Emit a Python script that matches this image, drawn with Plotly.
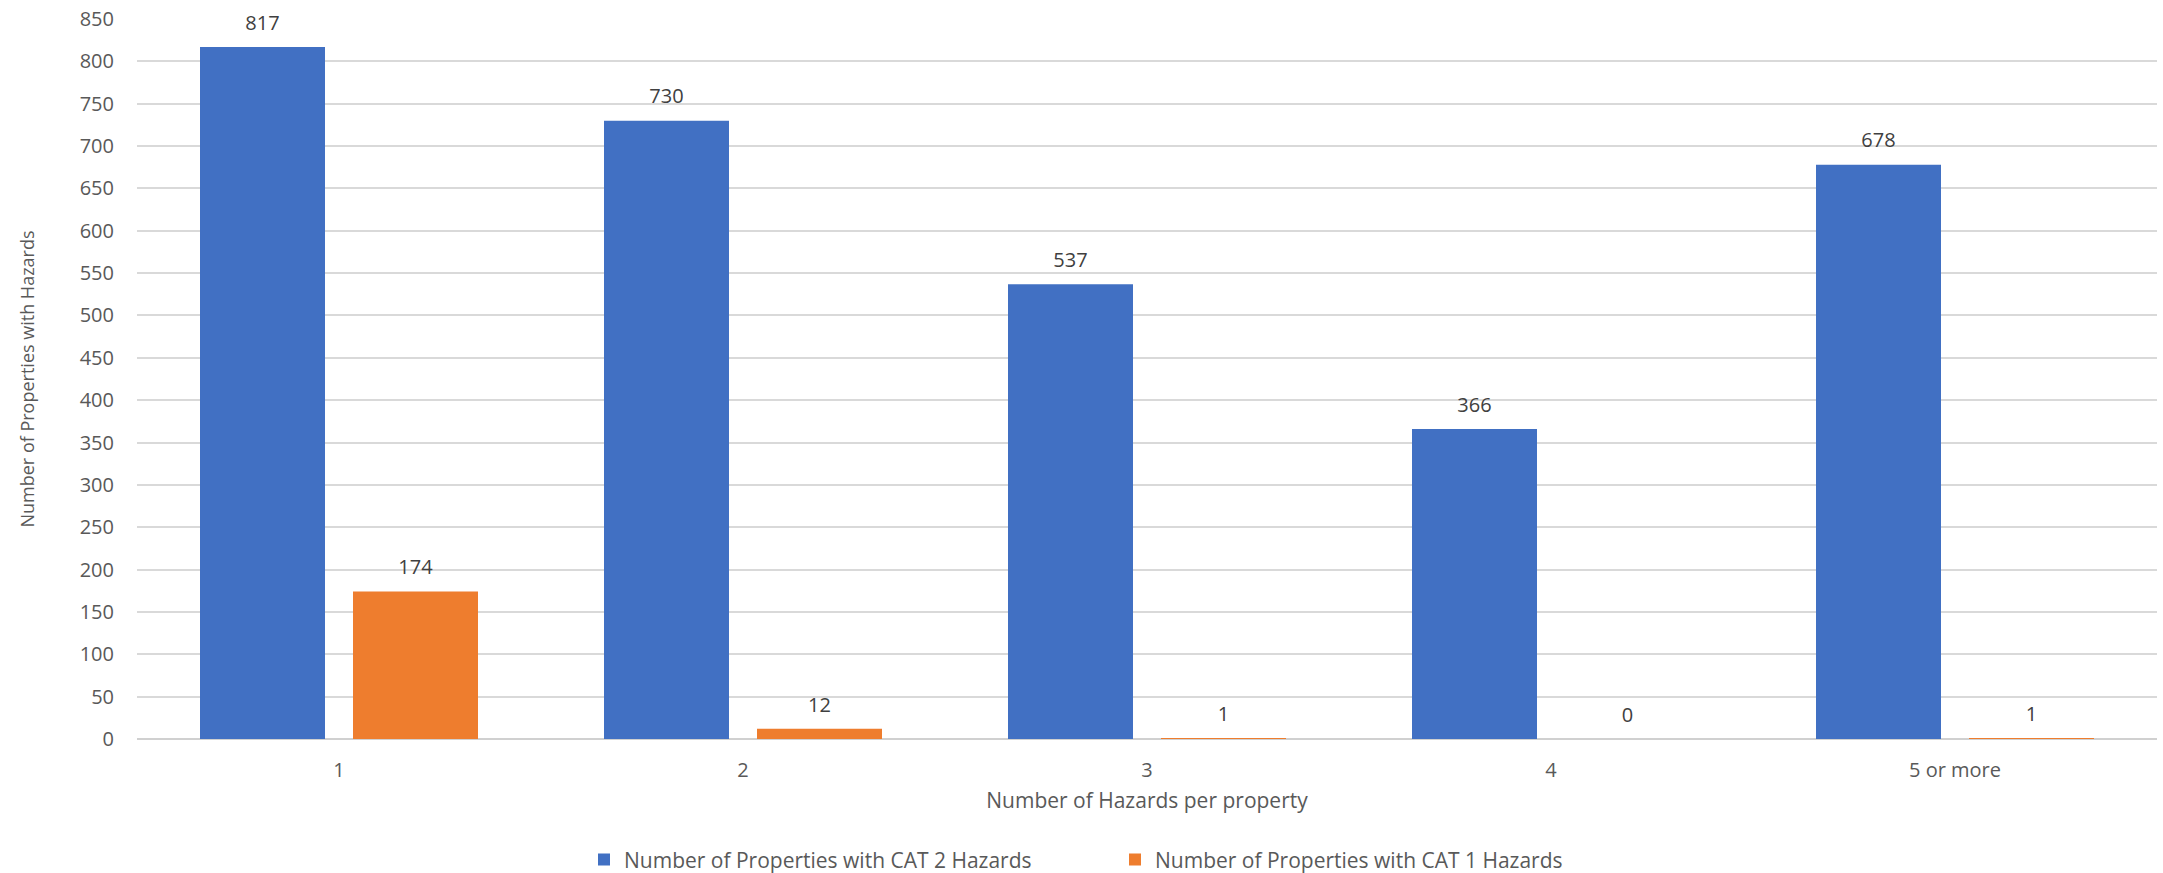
import plotly.graph_objects as go

categories = ["1", "2", "3", "4", "5 or more"]
cat2_values = [817, 730, 537, 366, 678]
cat1_values = [174, 12, 1, 0, 1]
series_names = ["Number of Properties with CAT 2 Hazards",
                "Number of Properties with CAT 1 Hazards"]

blue = "#4170C3"
orange = "#EE7D2E"
label_color = "#404040"
tick_color = "#595959"
font_family = "Open Sans, Liberation Sans, sans-serif"

fig = go.Figure()

for name, vals, color, grp in [(series_names[0], cat2_values, blue, "a"),
                               (series_names[1], cat1_values, orange, "b")]:
    fig.add_trace(go.Bar(
        x=categories, y=vals, name=name, offsetgroup=grp,
        marker=dict(color=color, line=dict(width=0)),
    ))

# value labels sitting above each bar
for vals, grp in [(cat2_values, "a"), (cat1_values, "b")]:
    fig.add_trace(go.Scatter(
        x=categories, y=vals, mode="markers+text", offsetgroup=grp,
        text=[str(v) for v in vals], textposition="top center",
        textfont=dict(size=20, color=label_color, family=font_family),
        marker=dict(size=18, opacity=0), showlegend=False,
        hoverinfo="skip", cliponaxis=False,
    ))

fig.update_layout(
    width=2163, height=873,
    margin=dict(l=137, r=6, t=19, b=134),
    paper_bgcolor="white", plot_bgcolor="white",
    barmode="group", scattermode="group",
    bargap=0.2426, bargroupgap=0.183, scattergap=0.2426,
    font=dict(family=font_family, size=20, color=tick_color),
    xaxis=dict(
        title=dict(text="Number of Hazards per property", standoff=11,
                   font=dict(size=21, color=tick_color)),
        showgrid=False, showline=False, ticks="", zeroline=False,
        tickfont=dict(size=20, color=tick_color), ticklabelstandoff=17,
    ),
    yaxis=dict(
        title=dict(text="Number of Properties with Hazards", standoff=40,
                   font=dict(size=18, color=tick_color)),
        range=[0, 850], dtick=50, showgrid=True, gridcolor="#D9D9D9",
        gridwidth=1.5, zeroline=True, zerolinecolor="#D0D0D0", zerolinewidth=2,
        ticks="", tickfont=dict(size=20, color=tick_color), ticklabelstandoff=22,
    ),
    legend=dict(
        orientation="h", xref="container", yref="container",
        x=584 / 2163, xanchor="left", y=0.015, yanchor="middle",
        font=dict(size=21, color=tick_color), itemwidth=30,
        entrywidth=486, traceorder="normal",
    ),
)

fig.write_html("out.html")
